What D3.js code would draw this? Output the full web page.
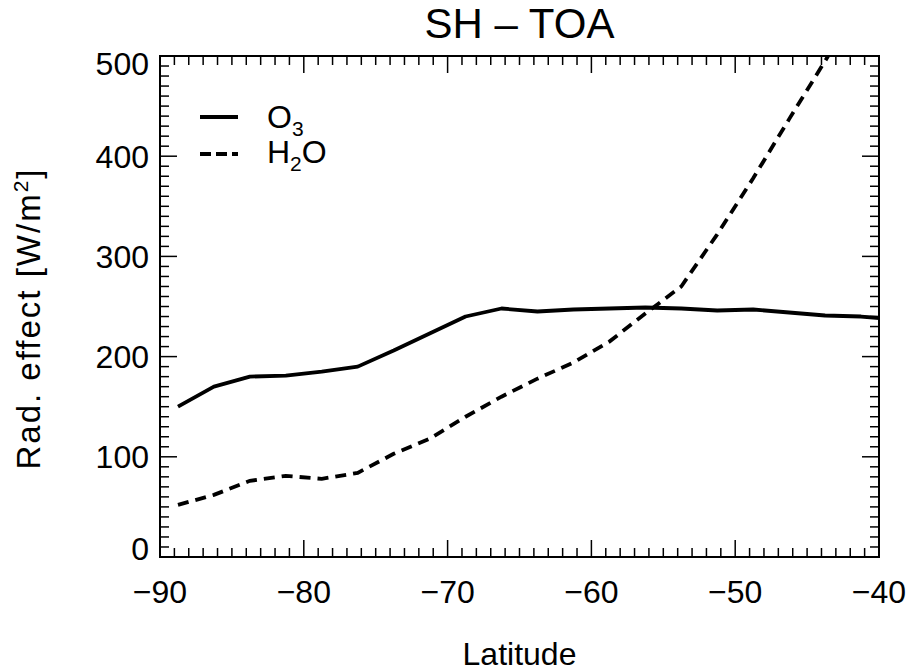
<!DOCTYPE html>
<html>
<head>
<meta charset="utf-8">
<script src="https://cdn.jsdelivr.net/npm/d3@7"></script>
<style>
  body { margin: 0; background: #fff; }
  text { font-family: "Liberation Sans", Arial, sans-serif; fill: #000; }
</style>
</head>
<body>
<div id="chart"></div>
<script>
var margin = { top: 56, right: 27, bottom: 114, left: 160 },
    width = 906 - margin.left - margin.right,
    height = 671 - margin.top - margin.bottom;

// latitudes of the model grid (SH)
var lats = [-88.75, -86.25, -83.75, -81.25, -78.75, -76.25, -73.75, -71.25, -68.75, -66.25,
            -63.75, -61.25, -58.75, -56.25, -53.75, -51.25, -48.75, -46.25, -43.75, -41.25, -38.75];
var o3 = [150, 170, 180, 181, 185, 190, 206, 223, 240, 248,
          245, 247, 248, 249, 248, 246, 247, 244, 241, 240, 237];
var h2o = [52, 62, 76, 81, 78, 84, 103, 118, 140, 160,
           178, 194, 215, 243, 270, 322, 378, 437, 495, 555, 615];
var xTicks = [-90, -80, -70, -60, -50, -40];
var yTicks = [0, 100, 200, 300, 400, 500];

var x = d3.scaleLinear().domain([-90, -40]).range([0, width]);
var y = d3.scaleLinear().domain([0, 500]).range([height, 0]);

var svg = d3.select("#chart").append("svg")
    .attr("width", 906)
    .attr("height", 671);

var g = svg.append("g")
    .attr("transform", "translate(" + margin.left + "," + margin.top + ")");

g.append("clipPath").attr("id", "clip")
  .append("rect").attr("width", width).attr("height", height);

// minor + major ticks on all four sides, pointing inwards
var xMinor = d3.range(-90, -39, 1), yMinor = d3.range(0, 501, 10);
function isMajorX(d) { return d % 10 === 0; }
function isMajorY(d) { return d % 100 === 0; }

g.selectAll(".xb").data(xMinor).enter().append("line")
    .attr("x1", x).attr("x2", x)
    .attr("y1", height).attr("y2", function(d) { return height - (isMajorX(d) ? 17 : 9); })
    .attr("stroke", "#000").attr("stroke-width", 1.5);
g.selectAll(".xt").data(xMinor).enter().append("line")
    .attr("x1", x).attr("x2", x)
    .attr("y1", 0).attr("y2", function(d) { return isMajorX(d) ? 17 : 9; })
    .attr("stroke", "#000").attr("stroke-width", 1.5);
g.selectAll(".yl").data(yMinor).enter().append("line")
    .attr("y1", y).attr("y2", y)
    .attr("x1", 0).attr("x2", function(d) { return isMajorY(d) ? 17 : 9; })
    .attr("stroke", "#000").attr("stroke-width", 1.5);
g.selectAll(".yr").data(yMinor).enter().append("line")
    .attr("y1", y).attr("y2", y)
    .attr("x1", width).attr("x2", function(d) { return width - (isMajorY(d) ? 17 : 9); })
    .attr("stroke", "#000").attr("stroke-width", 1.5);

g.append("rect")
    .attr("width", width).attr("height", height)
    .attr("fill", "none").attr("stroke", "#000").attr("stroke-width", 2);

// tick labels
g.selectAll(".xlab").data(xTicks).enter().append("text")
    .attr("x", x).attr("y", height + 46)
    .attr("text-anchor", "middle")
    .style("font-size", "32px")
    .text(function(d) { return "\u2212" + Math.abs(d); });

g.selectAll(".ylab").data(yTicks).enter().append("text")
    .attr("x", -11).attr("y", y)
    .attr("dy", function(d) { return d === 0 ? "0.1em" : (d === 500 ? "0.6em" : "0.36em"); })
    .attr("text-anchor", "end")
    .style("font-size", "32px")
    .text(function(d) { return d; });

// lines
var line = d3.line()
    .x(function(d, i) { return x(lats[i]); })
    .y(function(d) { return y(d); });

var plot = g.append("g").attr("clip-path", "url(#clip)");

plot.append("path").datum(o3)
    .attr("d", line)
    .attr("fill", "none").attr("stroke", "#000").attr("stroke-width", 3.8)
    .attr("stroke-linejoin", "round");

plot.append("path").datum(h2o)
    .attr("d", line)
    .attr("fill", "none").attr("stroke", "#000").attr("stroke-width", 3.8)
    .attr("stroke-dasharray", "11,7");

// legend
var legend = g.append("g").attr("transform", "translate(40,61)");
legend.append("line").attr("x1", 0).attr("x2", 38).attr("y1", 0).attr("y2", 0)
    .attr("stroke", "#000").attr("stroke-width", 3.8);
legend.append("line").attr("x1", 0).attr("x2", 38).attr("y1", 37).attr("y2", 37)
    .attr("stroke", "#000").attr("stroke-width", 3.8).attr("stroke-dasharray", "11,5");

var t1 = legend.append("text").attr("x", 67).attr("y", 11).style("font-size", "32px");
t1.append("tspan").text("O");
t1.append("tspan").attr("dy", 8).style("font-size", "21px").text("3");

var t2 = legend.append("text").attr("x", 67).attr("y", 46).style("font-size", "32px");
t2.append("tspan").text("H");
t2.append("tspan").attr("dy", 8).style("font-size", "21px").text("2");
t2.append("tspan").attr("dy", -8).text("O");

// title and axis labels
svg.append("text")
    .attr("x", margin.left + width / 2).attr("y", 38)
    .attr("text-anchor", "middle")
    .style("font-size", "42px")
    .text("SH \u2013 TOA");

svg.append("text")
    .attr("x", margin.left + width / 2).attr("y", 665)
    .attr("text-anchor", "middle")
    .style("font-size", "32px")
    .text("Latitude");

var yl = svg.append("text")
    .attr("text-anchor", "middle")
    .attr("transform", "translate(40," + (margin.top + height / 2 + 12) + ")rotate(-90)")
    .style("font-size", "33px")
    .style("letter-spacing", "2px");
yl.append("tspan").text("Rad. effect [W/m");
yl.append("tspan").attr("dy", -12).style("font-size", "21px").text("2");
yl.append("tspan").attr("dy", 12).text("]");
</script>
</body>
</html>
